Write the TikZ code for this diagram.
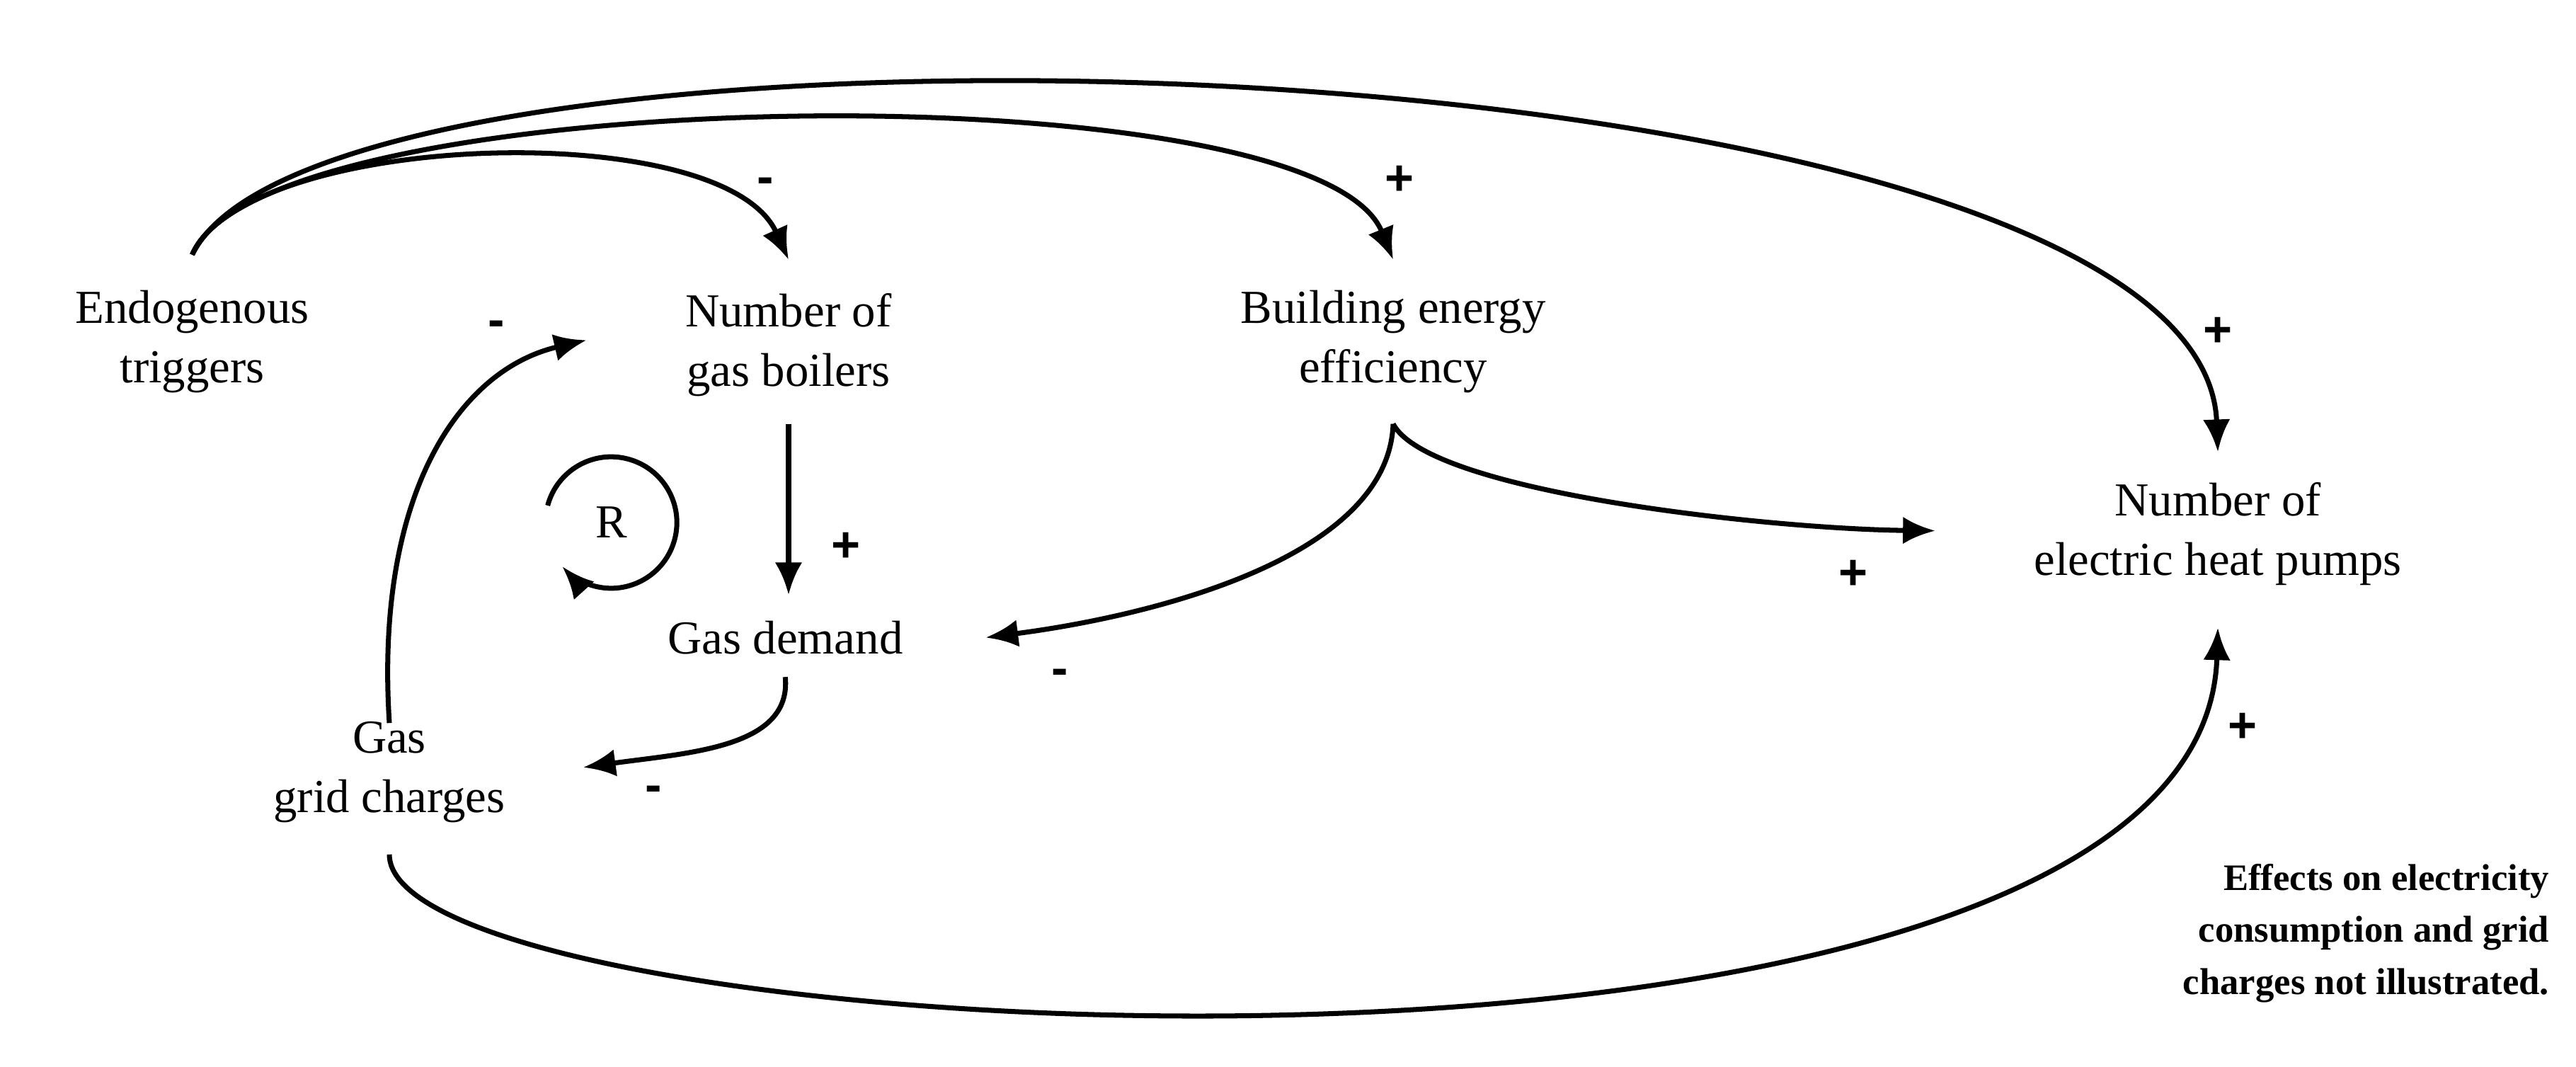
\documentclass[tikz,border=0pt]{standalone}
\usepackage{fontspec}
\setmainfont{Liberation Serif}
\newfontfamily\signfont{Liberation Sans}
\usetikzlibrary{arrows.meta}
\tikzset{
  var/.style={align=center,font=\fontsize{19}{24}\selectfont},
  link/.style={line width=2pt,-{Latex[length=13pt,width=11pt]}},
  sign/.style={font=\signfont\bfseries\fontsize{20}{20}\selectfont}
}
\begin{document}
\begin{tikzpicture}[x=0.0232cm,y=-0.0232cm]
    \useasboundingbox (0,0) rectangle (1568,649);

    \node[var] (endo) at (117,208) {Endogenous\\triggers};
    \node[var] (boil) at (480,210) {Number of\\gas boilers};
    \node[var] (eff) at (848,208) {Building energy\\efficiency};
    \node[var] (hp) at (1350,325) {Number of\\electric heat pumps};
    \node[var] (dem) at (478,388) {Gas demand};
    \node[var] (grid) at (237,470) {Gas\\grid charges};
    \node[var] (r) at (372,318) {R};
    \node[align=right,anchor=east,font=\fontsize{15}{21}\selectfont\bfseries] (note) at (1557,568)
      {Effects on electricity\\consumption and grid\\charges not illustrated.};

    % named ends
    \coordinate (endoT) at (117,155);
    \coordinate (boilT) at (480,158);
    \coordinate (boilB) at (480,258);
    \coordinate (effT) at (848,158);
    \coordinate (effB) at (848,258);
    \coordinate (hpT) at (1350,275);
    \coordinate (hpL) at (1178,323);
    \coordinate (hpB) at (1350,382);
    \coordinate (demT) at (480,362);
    \coordinate (demR) at (600,388);
    \coordinate (demB) at (478,412);
    \coordinate (boilL) at (357,207);
    \coordinate (gridT) at (237,440);
    \coordinate (gridR) at (355,467);
    \coordinate (gridB) at (237,520);

    % arrows
    \draw[link] (endoT) .. controls (150,80) and (440,70) .. (boilT);
    \draw[link] (endoT) .. controls (160,50) and (800,40) .. (effT);
    \draw[link] (endoT) .. controls (200,-15) and (1340,20) .. (hpT);
    \draw[link] (boilB) -- (demT);
    \draw[link] (effB) .. controls (845,340) and (700,375) .. (demR);
    \draw[link] (effB) .. controls (870,300) and (1080,322) .. (hpL);
    \draw[link] (demB) .. controls (482,455) and (420,458) .. (gridR);
    \draw[link] (gridT) .. controls (228,300) and (280,225) .. (boilL);
    \draw[link] (gridB) .. controls (237,640) and (1340,700) .. (hpB);
    \draw[link] ([shift={(-165:40)}]r.center) arc[start angle=-165,end angle=138,radius=40];

    % signs
    \node[sign] at (466,113) {-};
    \node[sign] at (852,110) {+};
    \node[sign] at (1350,202) {+};
    \node[sign] at (515,333) {+};
    \node[sign] at (645,412) {-};
    \node[sign] at (1128,350) {+};
    \node[sign] at (398,483) {-};
    \node[sign] at (302,200) {-};
    \node[sign] at (1365,443) {+};
\end{tikzpicture}
\end{document}
